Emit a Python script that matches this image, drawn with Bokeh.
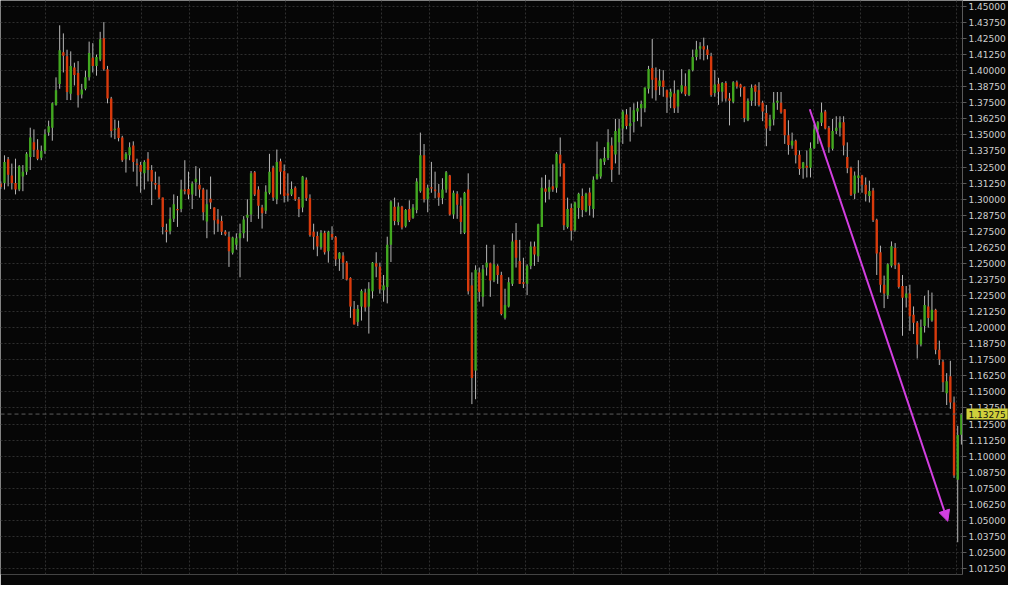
from bokeh.plotting import figure
from bokeh.models import (Range1d, FixedTicker, PrintfTickFormatter, Grid, Span,
                          Label, Arrow, NormalHead, ColumnDataSource)
from bokeh.embed import file_html
from bokeh.resources import INLINE

# ---- data ----
opens = [1.3121, 1.3126, 1.3310, 1.3184, 1.3126, 1.3075, 1.3176, 1.3214, 1.3328, 1.3442,
         1.3384, 1.3323, 1.3374, 1.3518, 1.3556, 1.3733, 1.3897, 1.4143, 1.4112, 1.3821,
         1.4024, 1.3981, 1.3814, 1.3859, 1.3948, 1.4100, 1.4037, 1.4087, 1.4252, 1.4011,
         1.3784, 1.3538, 1.3556, 1.3480, 1.3310, 1.3341, 1.3417, 1.3277, 1.3265, 1.3202,
         1.3315, 1.3227, 1.3126, 1.3113, 1.3012, 1.2759, 1.2751, 1.2847, 1.2923, 1.2923,
         1.3075, 1.3080, 1.3037, 1.3131, 1.3113, 1.3075, 1.2827, 1.3004, 1.2936, 1.2842,
         1.2830, 1.2746, 1.2708, 1.2582, 1.2645, 1.2696, 1.2734, 1.2855, 1.2880, 1.3209,
         1.3075, 1.2936, 1.2910, 1.3050, 1.3244, 1.2999, 1.3295, 1.3219, 1.3045, 1.3037,
         1.3088, 1.2999, 1.2936, 1.3151, 1.3007, 1.2746, 1.2713, 1.2627, 1.2738, 1.2594,
         1.2728, 1.2703, 1.2536, 1.2561, 1.2506, 1.2387, 1.2146, 1.2045, 1.2164, 1.2273,
         1.2164, 1.2283, 1.2501, 1.2475, 1.2291, 1.2316, 1.2645, 1.2941, 1.2822, 1.2941,
         1.2789, 1.2923, 1.2855, 1.2916, 1.3062, 1.3341, 1.2999, 1.3093, 1.3075, 1.3050,
         1.3007, 1.3075, 1.3184, 1.2880, 1.3042, 1.2948, 1.2738, 1.3075, 1.2329, 1.1666,
         1.2430, 1.2240, 1.2468, 1.2501, 1.2367, 1.2481, 1.2410, 1.2076, 1.2164, 1.2341,
         1.2683, 1.2518, 1.2354, 1.2341, 1.2481, 1.2632, 1.2556, 1.2784, 1.3083, 1.3057,
         1.3100, 1.3088, 1.3346, 1.3277, 1.2784, 1.2931, 1.2759, 1.2931, 1.3024, 1.2906,
         1.3051, 1.2924, 1.3159, 1.3177, 1.3291, 1.3321, 1.3418, 1.3347, 1.3443, 1.3549,
         1.3658, 1.3569, 1.3600, 1.3683, 1.3708, 1.3708, 1.3860, 1.4020, 1.3944, 1.3878,
         1.3924, 1.3848, 1.3797, 1.3822, 1.3721, 1.3835, 1.3878, 1.3810, 1.4004, 1.4106,
         1.4171, 1.4189, 1.4164, 1.4113, 1.3827, 1.3898, 1.3835, 1.3903, 1.3784, 1.3759,
         1.3910, 1.3893, 1.3872, 1.3614, 1.3766, 1.3885, 1.3847, 1.3751, 1.3670, 1.3569,
         1.3619, 1.3751, 1.3751, 1.3700, 1.3498, 1.3417, 1.3455, 1.3346, 1.3240, 1.3260,
         1.3245, 1.3397, 1.3543, 1.3594, 1.3683, 1.3556, 1.3392, 1.3531, 1.3556, 1.3599,
         1.3328, 1.3245, 1.3043, 1.3164, 1.3184, 1.3113, 1.3025, 1.3068, 1.2840, 1.2587,
         1.2334, 1.2253, 1.2481, 1.2620, 1.2494, 1.2324, 1.2233, 1.2266, 1.2101, 1.2038,
         1.1869, 1.2013, 1.2165, 1.2056, 1.2139, 1.1828, 1.1735, 1.1489, 1.1621, 1.1418,
         1.0816, 1.1166]
highs = [1.3138, 1.3341, 1.3328, 1.3277, 1.3315, 1.3265, 1.3265, 1.3366, 1.3556, 1.3543,
         1.3467, 1.3417, 1.3543, 1.3611, 1.3753, 1.3948, 1.4353, 1.4290, 1.4163, 1.4150,
         1.4062, 1.4074, 1.3897, 1.3999, 1.4226, 1.4214, 1.4125, 1.4302, 1.4378, 1.4037,
         1.3796, 1.3619, 1.3611, 1.3493, 1.3366, 1.3442, 1.3450, 1.3315, 1.3290, 1.3303,
         1.3366, 1.3265, 1.3214, 1.3176, 1.3012, 1.2809, 1.2936, 1.3037, 1.3025, 1.3151,
         1.3303, 1.3214, 1.3138, 1.3257, 1.3240, 1.3088, 1.3075, 1.3176, 1.2936, 1.2923,
         1.2868, 1.2759, 1.2746, 1.2708, 1.2734, 1.2809, 1.2868, 1.2999, 1.3219, 1.3219,
         1.3100, 1.2956, 1.3108, 1.3353, 1.3260, 1.3386, 1.3315, 1.3270, 1.3201, 1.3138,
         1.3100, 1.3017, 1.3181, 1.3169, 1.3037, 1.2809, 1.2746, 1.2759, 1.2754, 1.2754,
         1.2789, 1.2713, 1.2587, 1.2587, 1.2518, 1.2392, 1.2207, 1.2177, 1.2298, 1.2303,
         1.2354, 1.2511, 1.2587, 1.2506, 1.2410, 1.2708, 1.2991, 1.3012, 1.2974, 1.2948,
         1.2923, 1.2991, 1.2961, 1.3163, 1.3518, 1.3429, 1.3113, 1.3290, 1.3214, 1.3118,
         1.3163, 1.3219, 1.3189, 1.3067, 1.3062, 1.3012, 1.3057, 1.3201, 1.2430, 1.2485,
         1.2468, 1.2488, 1.2645, 1.2506, 1.2645, 1.2493, 1.2435, 1.2303, 1.2392, 1.2734,
         1.2814, 1.2683, 1.2544, 1.2493, 1.2670, 1.2670, 1.2809, 1.3169, 1.3189, 1.3151,
         1.3270, 1.3366, 1.3480, 1.3277, 1.3012, 1.2966, 1.2981, 1.3050, 1.3083, 1.3050,
         1.3089, 1.3177, 1.3448, 1.3316, 1.3405, 1.3544, 1.3481, 1.3625, 1.3625, 1.3696,
         1.3701, 1.3716, 1.3746, 1.3759, 1.3767, 1.3868, 1.4037, 1.4247, 1.4025, 1.4012,
         1.4004, 1.3853, 1.3860, 1.3924, 1.3853, 1.4012, 1.3979, 1.4012, 1.4164, 1.4232,
         1.4222, 1.4257, 1.4197, 1.4139, 1.4004, 1.3944, 1.3911, 1.3918, 1.3827, 1.3918,
         1.3923, 1.3898, 1.3877, 1.3784, 1.3893, 1.3893, 1.3910, 1.3766, 1.3733, 1.3657,
         1.3834, 1.3834, 1.3834, 1.3700, 1.3614, 1.3518, 1.3463, 1.3379, 1.3290, 1.3379,
         1.3442, 1.3581, 1.3607, 1.3751, 1.3695, 1.3569, 1.3624, 1.3645, 1.3645, 1.3645,
         1.3442, 1.3253, 1.3215, 1.3303, 1.3189, 1.3169, 1.3144, 1.3088, 1.2848, 1.2638,
         1.2405, 1.2501, 1.2671, 1.2658, 1.2506, 1.2410, 1.2324, 1.2334, 1.2165, 1.2051,
         1.2063, 1.2248, 1.2291, 1.2273, 1.2147, 1.1899, 1.1752, 1.1646, 1.1742, 1.1464,
         1.1236, 1.1335]
lows = [1.3080, 1.3075, 1.3100, 1.3075, 1.3037, 1.3062, 1.3062, 1.3189, 1.3227, 1.3328,
        1.3303, 1.3303, 1.3353, 1.3493, 1.3455, 1.3728, 1.3859, 1.3986, 1.3771, 1.3771,
        1.3885, 1.3713, 1.3784, 1.3847, 1.3923, 1.3986, 1.3961, 1.4074, 1.3999, 1.3746,
        1.3480, 1.3467, 1.3450, 1.3290, 1.3207, 1.3303, 1.3214, 1.3100, 1.3050, 1.3075,
        1.3138, 1.2954, 1.3075, 1.2999, 1.2726, 1.2663, 1.2726, 1.2822, 1.2784, 1.2898,
        1.3037, 1.2999, 1.2923, 1.3025, 1.3012, 1.2835, 1.2696, 1.2923, 1.2726, 1.2746,
        1.2721, 1.2716, 1.2473, 1.2569, 1.2607, 1.2392, 1.2696, 1.2670, 1.2822, 1.3024,
        1.2847, 1.2771, 1.2885, 1.3037, 1.2986, 1.2961, 1.3037, 1.2974, 1.2981, 1.3024,
        1.2986, 1.2860, 1.2898, 1.2986, 1.2708, 1.2607, 1.2556, 1.2607, 1.2569, 1.2506,
        1.2683, 1.2480, 1.2442, 1.2379, 1.2367, 1.2076, 1.2025, 1.2012, 1.2055, 1.2126,
        1.1954, 1.2227, 1.2392, 1.2265, 1.2202, 1.2189, 1.2511, 1.2797, 1.2797, 1.2764,
        1.2779, 1.2822, 1.2847, 1.2890, 1.3050, 1.2974, 1.2898, 1.3050, 1.3007, 1.2948,
        1.2961, 1.3050, 1.2873, 1.2847, 1.2847, 1.2728, 1.2728, 1.2258, 1.1405, 1.1443,
        1.2202, 1.2164, 1.2405, 1.2240, 1.2354, 1.2341, 1.2096, 1.2063, 1.2157, 1.2324,
        1.2468, 1.2341, 1.2308, 1.2253, 1.2455, 1.2481, 1.2511, 1.2784, 1.2974, 1.2999,
        1.3057, 1.3050, 1.3176, 1.2759, 1.2771, 1.2678, 1.2746, 1.2847, 1.2860, 1.2898,
        1.2874, 1.2856, 1.3152, 1.3159, 1.3266, 1.3304, 1.3134, 1.3278, 1.3190, 1.3430,
        1.3544, 1.3448, 1.3519, 1.3607, 1.3564, 1.3676, 1.3822, 1.3784, 1.3767, 1.3810,
        1.3797, 1.3671, 1.3708, 1.3671, 1.3671, 1.3822, 1.3802, 1.3802, 1.3994, 1.4080,
        1.4088, 1.4080, 1.4088, 1.3797, 1.3797, 1.3734, 1.3759, 1.3759, 1.3574, 1.3746,
        1.3860, 1.3797, 1.3599, 1.3607, 1.3726, 1.3726, 1.3721, 1.3607, 1.3412, 1.3531,
        1.3574, 1.3695, 1.3665, 1.3430, 1.3346, 1.3392, 1.3278, 1.3189, 1.3159, 1.3169,
        1.3169, 1.3392, 1.3430, 1.3569, 1.3543, 1.3361, 1.3379, 1.3506, 1.3488, 1.3341,
        1.3202, 1.3025, 1.3000, 1.3050, 1.3050, 1.2982, 1.2974, 1.2822, 1.2410, 1.2273,
        1.2152, 1.2223, 1.2468, 1.2456, 1.2304, 1.1937, 1.2157, 1.1975, 1.1950, 1.1760,
        1.1854, 1.1962, 1.2000, 1.2046, 1.1793, 1.1709, 1.1499, 1.1398, 1.1368, 1.0831,
        1.0330, 1.1090]
closes = [1.3095, 1.3290, 1.3189, 1.3126, 1.3075, 1.3257, 1.3214, 1.3353, 1.3480, 1.3384,
          1.3315, 1.3374, 1.3505, 1.3568, 1.3746, 1.3847, 1.4158, 1.4117, 1.3834, 1.4037,
          1.3966, 1.3809, 1.3854, 1.3948, 1.4138, 1.4037, 1.4107, 1.4244, 1.4011, 1.3784,
          1.3531, 1.3548, 1.3475, 1.3303, 1.3353, 1.3404, 1.3290, 1.3265, 1.3214, 1.3290,
          1.3227, 1.3138, 1.3113, 1.3012, 1.2784, 1.2746, 1.2847, 1.2961, 1.2913, 1.3075,
          1.3062, 1.3037, 1.3121, 1.3159, 1.3075, 1.2898, 1.2961, 1.2974, 1.2835, 1.2809,
          1.2746, 1.2726, 1.2594, 1.2701, 1.2696, 1.2734, 1.2842, 1.2878, 1.3201, 1.3037,
          1.2948, 1.2890, 1.3057, 1.3214, 1.3012, 1.3290, 1.3214, 1.3024, 1.3029, 1.3080,
          1.2999, 1.2923, 1.3176, 1.3007, 1.2721, 1.2708, 1.2632, 1.2738, 1.2587, 1.2746,
          1.2703, 1.2531, 1.2582, 1.2506, 1.2374, 1.2164, 1.2025, 1.2146, 1.2286, 1.2157,
          1.2303, 1.2506, 1.2475, 1.2298, 1.2329, 1.2645, 1.2981, 1.2830, 1.2943, 1.2779,
          1.2916, 1.2835, 1.2936, 1.3138, 1.3341, 1.2999, 1.3088, 1.3083, 1.3062, 1.3012,
          1.3075, 1.3209, 1.2880, 1.3050, 1.2956, 1.2822, 1.3050, 1.2283, 1.1608, 1.2450,
          1.2278, 1.2455, 1.2506, 1.2367, 1.2493, 1.2410, 1.2106, 1.2177, 1.2354, 1.2670,
          1.2544, 1.2341, 1.2341, 1.2481, 1.2632, 1.2569, 1.2804, 1.3088, 1.3057, 1.3093,
          1.3075, 1.3353, 1.3277, 1.2797, 1.2923, 1.2754, 1.2974, 1.3042, 1.2916, 1.3042,
          1.2949, 1.3152, 1.3195, 1.3311, 1.3321, 1.3443, 1.3228, 1.3531, 1.3549, 1.3683,
          1.3569, 1.3590, 1.3691, 1.3708, 1.3741, 1.3868, 1.4012, 1.3929, 1.3848, 1.3924,
          1.3873, 1.3792, 1.3835, 1.3708, 1.3848, 1.3886, 1.3817, 1.4004, 1.4106, 1.4164,
          1.4189, 1.4164, 1.4121, 1.3810, 1.3893, 1.3835, 1.3903, 1.3784, 1.3766, 1.3910,
          1.3877, 1.3867, 1.3632, 1.3766, 1.3867, 1.3835, 1.3733, 1.3683, 1.3549, 1.3619,
          1.3751, 1.3766, 1.3675, 1.3498, 1.3422, 1.3455, 1.3341, 1.3235, 1.3285, 1.3245,
          1.3397, 1.3543, 1.3599, 1.3675, 1.3549, 1.3404, 1.3531, 1.3556, 1.3599, 1.3417,
          1.3240, 1.3032, 1.3184, 1.3184, 1.3113, 1.3038, 1.3063, 1.2835, 1.2577, 1.2334,
          1.2266, 1.2494, 1.2633, 1.2486, 1.2316, 1.2233, 1.2266, 1.2089, 1.2038, 1.1869,
          1.2005, 1.2177, 1.2076, 1.2139, 1.1828, 1.1752, 1.1575, 1.1583, 1.1418, 1.0849,
          1.1165, 1.13275]

price_ticks = [1.0125, 1.0250, 1.0375, 1.0500, 1.0625, 1.0750, 1.0875, 1.1000, 1.1125,
               1.1250, 1.1375, 1.1500, 1.1625, 1.1750, 1.1875, 1.2000, 1.2125, 1.2250,
               1.2375, 1.2500, 1.2625, 1.2750, 1.2875, 1.3000, 1.3125, 1.3250, 1.3375,
               1.3500, 1.3625, 1.3750, 1.3875, 1.4000, 1.4125, 1.4250, 1.4375, 1.4500]
current_price = 1.13275
current_label = "1.13275"
arrow_start = (219.8, 1.3700)   # (bar index, price)
arrow_end = (257.3, 1.0493)
period_lines = [12.2, 25.2, 38.3, 51.3, 64.3, 77.3, 90.4, 103.4, 116.4, 129.5,
                142.5, 155.5, 168.6, 181.6, 194.6, 207.6, 220.7, 233.7, 246.7, 259.8]

# ---- styling ----
BG = "#060606"
UP = "#42a820"
DOWN = "#d93a0c"
WICK = "#b8b8b8"
GRID = "#2e2e2e"
ARROW = "#d23fe0"
TAG = "#cfcf3c"

idx = list(range(len(opens)))
src = ColumnDataSource(dict(
    idx=idx, open=opens, high=highs, low=lows, close=closes,
    top=[max(o, c) for o, c in zip(opens, closes)],
    bottom=[min(o, c) for o, c in zip(opens, closes)],
    color=[UP if c >= o else DOWN for o, c in zip(opens, closes)],
))

W, H = 1008, 585
x_end = 261.3
p = figure(width=W, height=H, output_backend="svg", toolbar_location=None,
           x_range=Range1d(-0.08, x_end), y_range=Range1d(1.0079, 1.4546),
           x_axis_location=None, y_axis_location="right",
           min_border=0, background_fill_color=BG, border_fill_color=BG)
p.outline_line_color = None

yax = p.yaxis[0]
yax.ticker = FixedTicker(ticks=price_ticks)
yax.formatter = PrintfTickFormatter(format="%.5f")
yax.axis_line_color = "#5a5a5a"
yax.major_tick_line_color = "#5a5a5a"
yax.major_tick_out = 4
yax.major_tick_in = 0
yax.minor_tick_line_color = None
yax.major_label_text_color = "#d0d0d0"
yax.major_label_text_font = "DejaVu Sans"
yax.major_label_text_font_size = "9px"
yax.major_label_standoff = 2

p.ygrid.grid_line_color = GRID
p.ygrid.grid_line_dash = "2 2"
xgrids = list(p.xgrid)
if xgrids:
    for g in xgrids:
        g.ticker = FixedTicker(ticks=period_lines)
        g.grid_line_color = GRID
        g.grid_line_dash = "2 2"
else:
    p.add_layout(Grid(dimension=0, ticker=FixedTicker(ticks=period_lines),
                      grid_line_color=GRID, grid_line_dash="2 2"))

p.segment(x0="idx", y0="high", x1="idx", y1="low", source=src,
          line_color=WICK, line_width=1)
p.vbar(x="idx", width=0.65, top="top", bottom="bottom", source=src,
       fill_color="color", line_color=None)

p.add_layout(Span(location=current_price, dimension="width",
                  line_color="#5c5c5c", line_dash="4 3", line_width=1))

p.add_layout(Arrow(end=NormalHead(size=11, fill_color=ARROW, line_color=ARROW),
                   x_start=arrow_start[0], y_start=arrow_start[1],
                   x_end=arrow_end[0], y_end=arrow_end[1],
                   line_color=ARROW, line_width=2))

# current-price tag: lives in a thin side panel so it is not clipped to the frame,
# but is drawn over the price axis at the current price level
tag = Label(x=W - 42, y=current_price, x_units="canvas", y_units="data",
            text=current_label,
            text_font="DejaVu Sans", text_font_size="9px", text_color="#111111",
            text_baseline="middle", text_align="left",
            background_fill_color=TAG, padding=2)
p.add_layout(tag, "below")

open("out.html", "w").write(file_html(p, INLINE))
